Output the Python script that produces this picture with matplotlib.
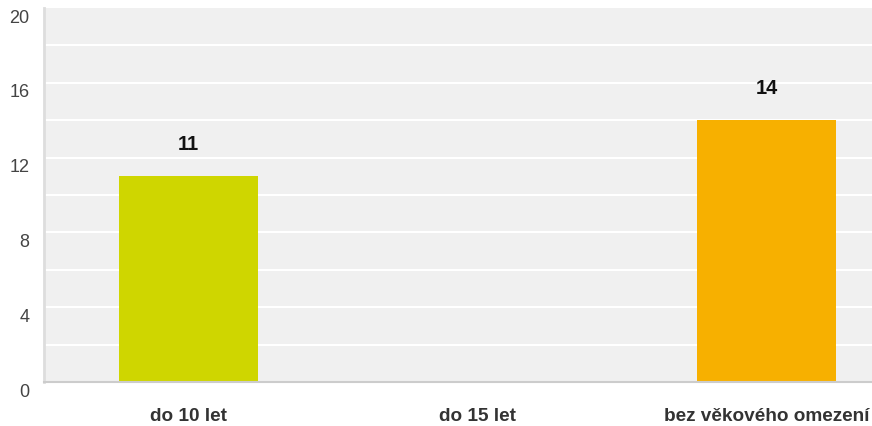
import matplotlib.pyplot as plt

plt.rcParams["font.family"] = ["Liberation Sans", "DejaVu Sans"]

categories = ["do 10 let", "do 15 let", "bez věkového omezení"]
values = [11, 0, 14]
colors = ["#cfd600", "#f0f0f0", "#f7b000"]
y_ticks = [0, 4, 8, 12, 16, 20]
grid_lines = [2, 4, 6, 8, 10, 12, 14, 16, 18]

W, H = 872, 427
fig = plt.figure(figsize=(W / 100, H / 100), dpi=100)
ax = fig.add_axes([44 / W, 44 / H, 828 / W, 374 / H])
ax.set_facecolor("#f0f0f0")

for g in grid_lines:
    ax.axhline(g, color="white", linewidth=1.5, zorder=1)

x = list(range(len(categories)))
ax.bar(x, values, width=0.48, color=colors, zorder=2)

for xi, v in zip(x, values):
    if v > 0:
        ax.annotate(str(v), (xi, v), xytext=(0, 23.5), textcoords="offset points",
                    ha="center", va="center", fontsize=14.5, fontweight="bold",
                    color="#111111")

ax.set_xlim(-0.5, 2.365)
ax.set_ylim(0, 20)

# y labels sit a little below their gridline, as in the original
ax.set_yticks(y_ticks)
ax.set_yticklabels([])
ax.tick_params(axis="y", length=0)
ytrans = ax.get_yaxis_transform()
for t in y_ticks:
    ax.annotate(str(t), (0, t), xycoords=ytrans, xytext=(-10.5, -6.5),
                textcoords="offset points", ha="right", va="center",
                fontsize=13, color="#444444", annotation_clip=False)

ax.set_xticks(x)
ax.set_xticklabels(categories, fontsize=13.7, fontweight="bold", color="#333333")
ax.tick_params(axis="x", length=0, pad=18)

for side in ["top", "right"]:
    ax.spines[side].set_visible(False)
ax.spines["left"].set_color("#dddddd")
ax.spines["left"].set_linewidth(2)
ax.spines["bottom"].set_color("#cccccc")
ax.spines["bottom"].set_linewidth(1.5)

fig.savefig("out.png", dpi=100, facecolor="white")
